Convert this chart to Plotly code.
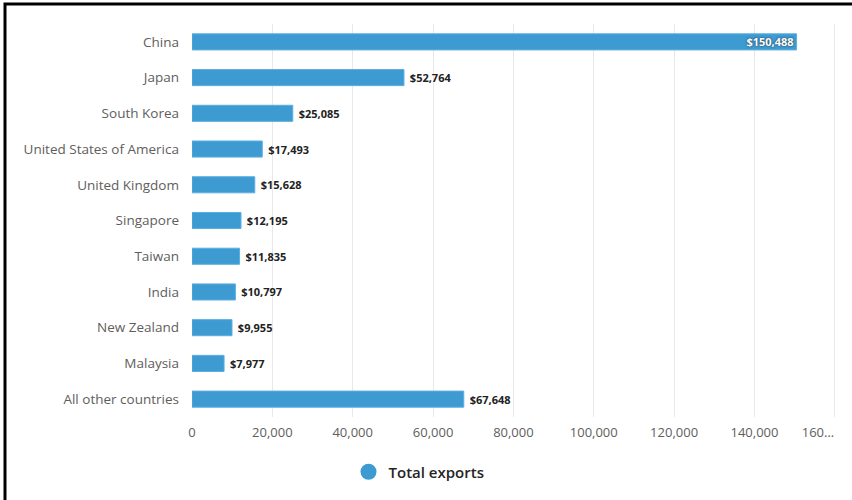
import plotly.graph_objects as go

countries = ["China", "Japan", "South Korea", "United States of America", "United Kingdom",
             "Singapore", "Taiwan", "India", "New Zealand", "Malaysia", "All other countries"]
exports = [150488, 52764, 25085, 17493, 15628, 12195, 11835, 10797, 9955, 7977, 67648]
series_name = "Total exports"
tick_values = [0, 20000, 40000, 60000, 80000, 100000, 120000, 140000, 160000]
tick_labels = ["0", "20,000", "40,000", "60,000", "80,000", "100,000", "120,000", "140,000",
               "160…" + "\u00a0" * 10]

W, H = 852, 500
ml, mr, mt, mb = 192, 16, 24, 83
pw, ph = W - ml - mr, H - mt - mb
color = "#3d9bd2"

positions = ["inside" if v > 100000 else "outside" for v in exports]
labels = [("$" if p == "inside" else " $") + f"{v:,}" for v, p in zip(exports, positions)]

fig = go.Figure()
fig.add_trace(go.Bar(
    y=countries, x=exports, orientation="h", name=series_name,
    marker=dict(color=color, line=dict(color="#5aaee0", width=1)),
    text=labels, textposition=positions, insidetextanchor="end",
    outsidetextfont=dict(family="Open Sans", size=11, color="#222", weight="bold"),
    insidetextfont=dict(family="Open Sans", size=11, color="white", weight="bold",
                        shadow="0px 0px 2px #222"),
    textangle=0, cliponaxis=False, showlegend=False, hoverinfo="x+y",
))
fig.add_trace(go.Scatter(
    x=[None], y=[None], mode="markers", name=series_name,
    marker=dict(symbol="circle", size=16, color=color), showlegend=True,
))

fig.update_layout(
    width=W, height=H, margin=dict(l=ml, r=mr, t=mt, b=mb, autoexpand=False),
    paper_bgcolor="white", plot_bgcolor="white",
    font=dict(family="Open Sans", size=13, color="#605e5c"),
    bargap=0.55,
    uniformtext=dict(minsize=11, mode="show"),
    xaxis=dict(range=[0, 160300], tickvals=tick_values, ticktext=tick_labels,
               showgrid=True, gridcolor="#e8e8e8", gridwidth=1, zeroline=False,
               showline=False, ticks="", ticklabelstandoff=6, automargin=False,
               ticklabeloverflow="allow",
               tickfont=dict(size=13, color="#605e5c")),
    yaxis=dict(autorange="reversed", showgrid=False, ticks="", ticklabelstandoff=12,
               showline=False, automargin=False, tickfont=dict(size=13.5, color="#605e5c")),
    legend=dict(orientation="h", x=(419 - ml) / pw, xanchor="center",
                y=(mt + ph - 472) / ph, yanchor="middle",
                font=dict(size=15, color="#252423", weight=600),
                itemsizing="trace", itemwidth=30),
    shapes=[
        dict(type="path", xref="paper", yref="paper",
             path=f"M {(5 - ml) / pw} {-(H - (mt + ph) + 5) / ph} L {(5 - ml) / pw} {1 + (mt - 4) / ph} L {1 + (mr + 5) / pw} {1 + (mt - 4) / ph}",
             line=dict(color="black", width=3)),
    ],
)

fig.write_html("out.html")
